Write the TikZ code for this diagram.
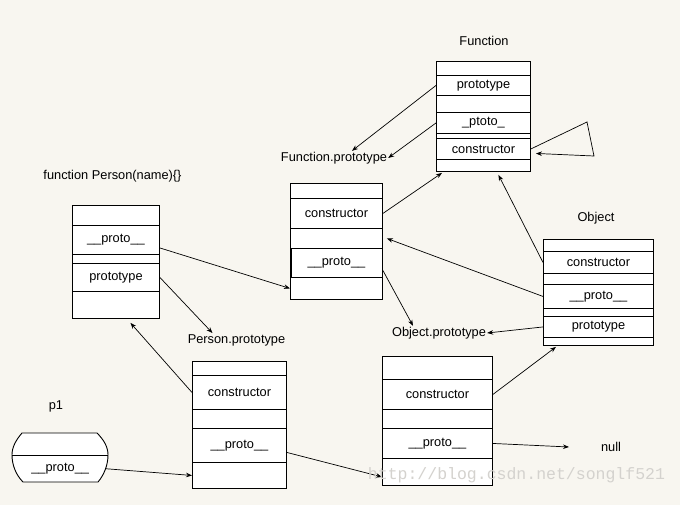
\documentclass[tikz,border=0pt]{standalone}
\usepackage{fontspec}
\setmainfont{Liberation Sans}
\newfontfamily\wmfont{Liberation Mono}
\usetikzlibrary{arrows.meta,calc}
\definecolor{bgc}{RGB}{248,246,240}
\definecolor{wmc}{RGB}{212,210,206}
\newcommand{\cellbox}[6]{\node[cell,minimum width=#4pt,minimum height=#5pt] (#1) at (#2,#3) {#6};}
\begin{document}
\begin{tikzpicture}[x=1pt,y=-1pt,
  cell/.style={draw, fill=white, line width=0.9pt, inner sep=0pt, anchor=north west, font=\fontsize{12.8}{14}\selectfont},
  lbl/.style={inner sep=1pt, font=\fontsize{12.8}{14}\selectfont},
  arr/.style={-{Stealth[length=6pt,width=4.5pt]}, line width=0.7pt},
  conn/.style={line width=0.7pt}]
\useasboundingbox (0,0) rectangle (680,505);
\fill[bgc] (0,0) rectangle (680,505);

% Function box
\cellbox{fA}{436}{61}{94}{14}{}
\cellbox{fProto}{436}{75}{94}{20}{prototype}
\cellbox{fB}{436}{95}{94}{17}{}
\cellbox{fPtoto}{436}{112}{94}{21}{\_ptoto\_}
\cellbox{fC}{436}{133}{94}{5}{}
\cellbox{fCons}{436}{138}{94}{21}{constructor}
\cellbox{fD}{436}{159}{94}{12}{}

% Function.prototype box
\cellbox{fpA}{290}{183}{92}{15}{}
\cellbox{fpCons}{290}{198}{92}{30}{constructor}
\cellbox{fpB}{290}{228}{92}{20}{}
\cellbox{fpProto}{290}{248}{92}{29}{\_\_proto\_\_}
\cellbox{fpC}{290}{277}{92}{22}{}
\draw[line width=0.9pt] ([xshift=1.5pt]fpProto.north west) -- ([xshift=1.5pt]fpProto.south west);

% Person box
\cellbox{pA}{72}{205}{87}{20}{}
\cellbox{pProto}{72}{225}{87}{29}{\_\_proto\_\_}
\cellbox{pB}{72}{254}{87}{9}{}
\cellbox{pPrototype}{72}{263}{87}{28}{prototype}
\cellbox{pC}{72}{291}{87}{27}{}

% Object box
\cellbox{oA}{543}{239}{110}{12}{}
\cellbox{oCons}{543}{251}{110}{22}{constructor}
\cellbox{oB}{543}{273}{110}{11}{}
\cellbox{oProto}{543}{284}{110}{24}{\_\_proto\_\_}
\cellbox{oC}{543}{308}{110}{8}{}
\cellbox{oPrototype}{543}{316}{110}{21}{prototype}
\cellbox{oD}{543}{337}{110}{8}{}

% Person.prototype box
\cellbox{ppA}{192}{361}{94}{14}{}
\cellbox{ppCons}{192}{375}{94}{34}{constructor}
\cellbox{ppB}{192}{409}{94}{19}{}
\cellbox{ppProto}{192}{428}{94}{34}{\_\_proto\_\_}
\cellbox{ppC}{192}{462}{94}{26}{}

% Object.prototype box (bottom)
\cellbox{opA}{382}{356}{110}{23}{}
\cellbox{opCons}{382}{379}{110}{30}{constructor}
\cellbox{opB}{382}{409}{110}{19}{}
\cellbox{opProto}{382}{428}{110}{30}{\_\_proto\_\_}
\cellbox{opC}{382}{458}{110}{27}{}

% p1
\draw[line width=0.9pt, fill=white] (22,433) -- (97,433)
  .. controls (104,440) and (108,447) .. (108,455)
  .. controls (108,465) and (104,475) .. (98,482) -- (23,482)
  .. controls (16,475) and (12,465) .. (12,455)
  .. controls (12,447) and (16,440) .. (22,433) -- cycle;
\draw[line width=0.9pt] (12,455) -- (108,455);
\node[inner sep=0pt, minimum width=96pt, minimum height=27pt, anchor=north west, font=\fontsize{12.8}{14}\selectfont] (p1proto) at (12,455) {\_\_proto\_\_};

% labels
\node[lbl] (fnLabel) at (484,41) {Function};
\node[lbl] (fpLabel) at (334,158) {Function.prototype};
\node[lbl] (personLabel) at (112.5,176) {function Person(name)\{\}};
\node[lbl] (ppLabel) at (236.5,340) {Person.prototype};
\node[lbl] (objLabel) at (596,218) {Object};
\node[lbl] (opLabel) at (439,333) {Object.prototype};
\node[lbl] (p1Label) at (56,406) {p1};
\node[lbl] (nullLabel) at (611,447) {null};

\coordinate (loopA) at (587,122);
\coordinate (loopB) at (594,156);
\coordinate (nullpt) at (569,447);

% connectors
\draw[arr] (fProto.west) -- ([xshift=18pt]fpLabel.north);
\draw[arr] (fPtoto.west) -- (fpLabel.east);
\draw[arr] (fCons.east) -- (loopA) -- (loopB) -- ([xshift=5pt,yshift=-4.5pt]fCons.east);
\draw[arr] (fpCons.east) -- ([xshift=6pt,yshift=-1pt]fD.south west);
\draw[arr] (oCons.west) -- ([xshift=15pt,yshift=-3pt]fD.south);
\draw[arr] ([yshift=-8pt]pProto.east) -- (fpC.west);
\draw[arr] (pPrototype.east) -- ([xshift=-24pt]ppLabel.north);
\draw[arr] (ppCons.west) -- ([xshift=14.5pt,yshift=-4pt]pC.south);
\draw[arr] ([xshift=-3pt]p1proto.east) -- (ppC.west);
\draw[arr] ([yshift=-7pt]ppProto.east) -- ([yshift=-5pt]opC.west);
\draw[arr] (opCons.east) -- ([xshift=13pt,yshift=-1pt]oD.south west);
\draw[arr] (opProto.east) -- (nullpt);
\draw[arr] ([yshift=-7.5pt]fpProto.east) -- ([xshift=-26pt]opLabel.north);
\draw[arr] (oProto.west) -- ([xshift=4pt]fpB.east);
\draw[arr] (oPrototype.west) -- (opLabel.east);

% watermark
\node[inner sep=0pt, text=wmc, font=\wmfont\fontsize{16.5}{18}\selectfont] (wm) at (516.5,475) {http://blog.csdn.net/songlf521};
\end{tikzpicture}
\end{document}
